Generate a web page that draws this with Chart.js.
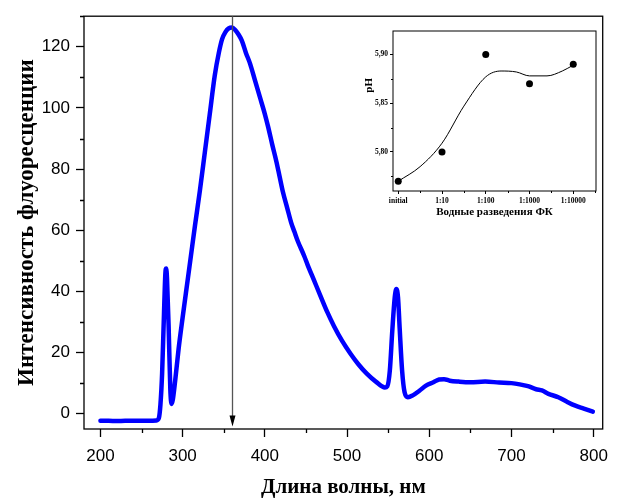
<!DOCTYPE html>
<html>
<head>
<meta charset="utf-8">
<script src="https://cdn.jsdelivr.net/npm/chart.js@4.4.0/dist/chart.umd.min.js"></script>
<style>
  html, body { margin: 0; padding: 0; background: #fff; }
  #wrap { position: relative; width: 617px; height: 499px; }
  #inset { position: absolute; left: 350px; top: 18px; }
</style>
</head>
<body>
<div id="wrap">
  <canvas id="spectrum" width="617" height="499"></canvas>
  <canvas id="inset" width="255" height="208"></canvas>
</div>
<script>
// fluorescence spectrum: wavelength (nm) and intensity
const wavelength = [
  200, 210, 220, 230, 240, 250, 260, 268, 271, 273, 275, 277, 279, 280, 281, 283, 285, 286.5,
  288, 291, 295, 300, 306, 310, 315, 321, 327, 333, 339, 344, 348, 352, 356, 360, 364, 368,
  372, 377, 382, 388, 394, 400, 404, 409, 414, 418, 422, 427, 432, 436, 440, 448, 452, 460, 468,
  476, 484, 494, 504, 514, 524, 535, 546, 549, 552, 555, 558, 560, 562, 564, 567, 570, 574,
  580, 588, 596, 605, 612, 618, 625, 636, 650, 668, 685, 700, 710, 720, 730, 737, 745, 757,
  767, 777, 788, 799
];
const intensity = [
  -2.3, -2.3, -2.4, -2.3, -2.3, -2.3, -2.3, -2.2, -1.5, 3, 13, 30, 46, 47.5, 44, 28, 8, 3.2,
  4.5, 11, 21, 31.5, 43.5, 51.5, 61.5, 73, 85.5, 98, 110.5, 118, 122.5, 124.8, 126, 126.3, 125.5, 124,
  122, 118, 114.5, 109, 103.5, 98, 93.8, 88, 82.5, 77.5, 72.5, 67.5, 62.5, 59.5, 56.5, 51.5, 48.7, 43.5, 38.3,
  33.2, 28.7, 23.8, 19.7, 16.1, 13.1, 10.5, 8.6, 9, 14, 27, 38, 40.8, 38, 28, 14, 7, 5.4,
  6, 7.5, 9.2, 10.3, 11.2, 11.3, 10.8, 10.5, 10.3, 10.5, 10.2, 10, 9.6, 9, 8, 7.6, 6.5, 5.4,
  4, 2.7, 1.7, 0.7
];
const excitationWavelength = 360;

// inset: pH of the aqueous dilutions
const dilutions = ['initial', '1:10', '1:100', '1:1000', '1:10000'];
const phValues = [5.77, 5.80, 5.90, 5.87, 5.89];
const fitPos = [0, 0.5, 1, 1.5, 2, 2.35, 2.7, 3, 3.4, 3.75, 4];
const fitPH = [5.770, 5.785, 5.809, 5.847, 5.877, 5.883, 5.882, 5.878, 5.878, 5.883, 5.889];

const sans = '"Liberation Sans", Arial, sans-serif';
const serif = '"Liberation Serif", "Times New Roman", serif';

// full box around the plot plus the short minor ticks
const frame = {
  id: 'frame',
  afterDatasetsDraw(chart, args, opts) {
    const { ctx, chartArea: a, scales } = chart;
    const x = scales.x, y = scales.y;
    ctx.save();
    ctx.strokeStyle = '#000';
    ctx.lineWidth = opts.lineWidth;
    ctx.strokeRect(a.left, a.top, a.right - a.left, a.bottom - a.top);
    ctx.beginPath();
    for (let v = Math.ceil(x.min / opts.xMinor) * opts.xMinor; v <= x.max; v += opts.xMinor) {
      if (x.ticks.some(t => Math.abs(t.value - v) < 1e-6)) continue;
      const p = Math.round(x.getPixelForValue(v)) + 0.5;
      ctx.moveTo(p, a.bottom);
      ctx.lineTo(p, a.bottom + opts.minorLen);
    }
    for (let v = Math.ceil(y.min / opts.yMinor) * opts.yMinor; v <= y.max; v += opts.yMinor) {
      if (y.ticks.some(t => Math.abs(t.value - v) < 1e-6)) continue;
      const p = Math.round(y.getPixelForValue(v)) + 0.5;
      ctx.moveTo(a.left, p);
      ctx.lineTo(a.left - opts.minorLen, p);
    }
    ctx.stroke();
    ctx.restore();
  }
};

// vertical arrow marking the excitation maximum
const arrow = {
  id: 'arrow',
  afterDatasetsDraw(chart, args, opts) {
    if (!opts.value) return;
    const { ctx, scales: { x, y } } = chart;
    const px = Math.round(x.getPixelForValue(opts.value)) + 0.5;
    const top = y.getPixelForValue(y.max);
    const tip = y.getPixelForValue(opts.tip);
    ctx.save();
    ctx.strokeStyle = '#555';
    ctx.lineWidth = 1.3;
    ctx.beginPath();
    ctx.moveTo(px, top);
    ctx.lineTo(px, tip - 8);
    ctx.stroke();
    ctx.fillStyle = '#000';
    ctx.beginPath();
    ctx.moveTo(px, tip);
    ctx.lineTo(px - 3, tip - 11);
    ctx.lineTo(px + 3, tip - 11);
    ctx.closePath();
    ctx.fill();
    ctx.restore();
  }
};

new Chart(document.getElementById('spectrum'), {
  type: 'line',
  plugins: [frame, arrow],
  data: {
    datasets: [{
      data: wavelength.map((w, i) => ({ x: w, y: intensity[i] })),
      borderColor: '#0000ff',
      borderWidth: 4.5,
      pointRadius: 0,
      cubicInterpolationMode: 'monotone',
      borderJoinStyle: 'round',
      borderCapStyle: 'round'
    }]
  },
  options: {
    responsive: false,
    animation: false,
    layout: { padding: { top: 12, right: 9, left: 0, bottom: 0 } },
    plugins: {
      legend: { display: false },
      tooltip: { enabled: false },
      frame: { lineWidth: 1.3, xMinor: 50, yMinor: 10, minorLen: 4 },
      arrow: { value: excitationWavelength, tip: -4.2 }
    },
    scales: {
      x: {
        type: 'linear',
        min: 180,
        max: 811,
        afterFit: s => { s.height = 70; },
        border: { display: false },
        grid: { drawOnChartArea: false, tickLength: 8, tickColor: '#000', tickWidth: 1.3 },
        ticks: {
          stepSize: 100,
          includeBounds: false,
          maxRotation: 0,
          padding: 9,
          color: '#000',
          font: { family: sans, size: 17 }
        },
        title: {
          display: true,
          text: 'Длина волны, нм',
          color: '#000',
          font: { family: serif, size: 21, weight: 'bold', lineHeight: 1 },
          padding: { top: 0, bottom: 1 }
        }
      },
      y: {
        min: -5,
        max: 130,
        afterFit: s => { s.width = 84; },
        border: { display: false },
        grid: { drawOnChartArea: false, tickLength: 8, tickColor: '#000', tickWidth: 1.3 },
        ticks: {
          stepSize: 20,
          includeBounds: false,
          padding: 6,
          color: '#000',
          font: { family: sans, size: 17 }
        },
        title: {
          display: true,
          text: 'Интенсивность флуоресценции',
          color: '#000',
          font: { family: serif, size: 23, weight: 'bold', lineHeight: 1.2 },
          padding: { top: 13, bottom: 0 }
        }
      }
    }
  }
});

// "pH" label sits above the middle of the inset axis
const phLabel = {
  id: 'phLabel',
  afterDraw(chart) {
    const { ctx, chartArea: a } = chart;
    ctx.save();
    ctx.translate(a.left - 24, a.top + (a.bottom - a.top) * 0.34);
    ctx.rotate(-Math.PI / 2);
    ctx.font = 'bold 11px ' + serif;
    ctx.fillStyle = '#000';
    ctx.textAlign = 'center';
    ctx.textBaseline = 'middle';
    ctx.fillText('pH', 0, 0);
    ctx.restore();
  }
};

new Chart(document.getElementById('inset'), {
  type: 'scatter',
  plugins: [frame, phLabel],
  data: {
    datasets: [
      {
        data: fitPos.map((p, i) => ({ x: p, y: fitPH[i] })),
        showLine: true,
        borderColor: '#000',
        borderWidth: 1,
        pointRadius: 0,
        cubicInterpolationMode: 'monotone'
      },
      {
        data: phValues.map((v, i) => ({ x: i, y: v })),
        pointRadius: 3.5,
        pointBackgroundColor: '#000',
        pointBorderWidth: 0
      }
    ]
  },
  options: {
    responsive: false,
    animation: false,
    layout: { padding: { top: 13, right: 9, left: 0, bottom: 0 } },
    plugins: {
      legend: { display: false },
      tooltip: { enabled: false },
      frame: { lineWidth: 1, xMinor: 0.5, yMinor: 0.025, minorLen: 2 }
    },
    scales: {
      x: {
        type: 'linear',
        min: -0.12,
        max: 4.52,
        afterFit: s => { s.height = 35; },
        border: { display: false },
        grid: { drawOnChartArea: false, tickLength: 3, tickColor: '#000', tickWidth: 1 },
        ticks: {
          stepSize: 1,
          includeBounds: false,
          maxRotation: 0,
          autoSkip: false,
          padding: 3,
          color: '#000',
          font: { family: serif, size: 7.5, weight: 'bold' },
          callback: v => dilutions[v] ?? ''
        },
        title: {
          display: true,
          text: 'Водные разведения ФК',
          color: '#000',
          font: { family: serif, size: 11, weight: 'bold' },
          padding: { top: 0, bottom: 7 }
        }
      },
      y: {
        min: 5.76,
        max: 5.924,
        afterFit: s => { s.width = 43; },
        border: { display: false },
        grid: { drawOnChartArea: false, tickLength: 3, tickColor: '#000', tickWidth: 1 },
        ticks: {
          stepSize: 0.05,
          includeBounds: false,
          padding: 2,
          color: '#000',
          font: { family: serif, size: 7.5, weight: 'bold' },
          callback: v => v.toFixed(2).replace('.', ',')
        }
      }
    }
  }
});
</script>
</body>
</html>
